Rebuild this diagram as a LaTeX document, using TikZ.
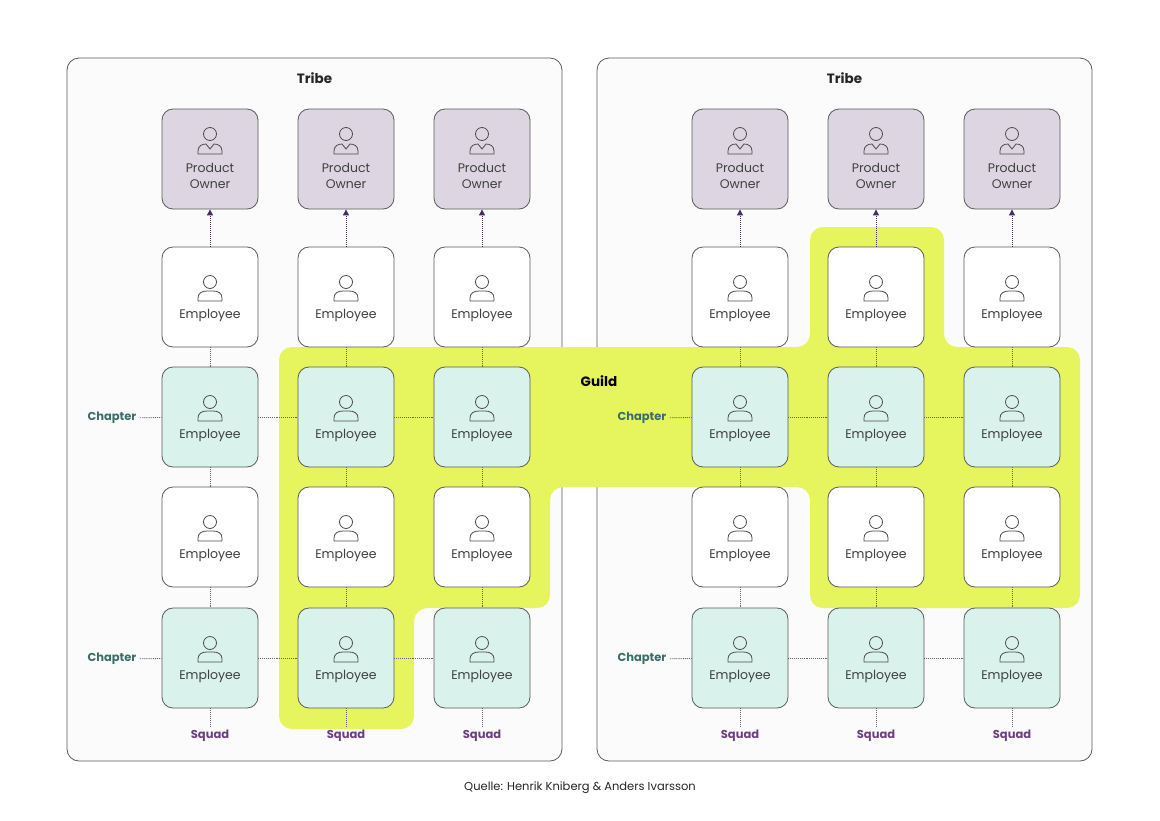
\documentclass[tikz,border=0pt]{standalone}
\usepackage{fontspec}
\setmainfont{Poppins}
\usetikzlibrary{arrows.meta}
\definecolor{po}{HTML}{DDD6E2}
\definecolor{ch}{HTML}{D9F3EC}
\definecolor{gy}{HTML}{E6F45E}
\definecolor{bd}{HTML}{5A5A5A}
\definecolor{tealt}{HTML}{3A6E68}
\definecolor{purp}{HTML}{6A3F82}
\definecolor{arr}{HTML}{4B2A66}
\begin{document}
\begin{tikzpicture}[x=1pt,y=-1pt,
  tribe/.style={draw=bd,fill=black!1.5,rounded corners=12,line width=0.8pt},
  box/.style={draw=bd,line width=0.8pt,rounded corners=11,minimum width=96pt,minimum height=100pt,fill=white},
  pobox/.style={box,fill=po},
  chbox/.style={box,fill=ch},
  txt/.style={font=\fontsize{12.5}{16}\selectfont,text=black!75,align=center},
  icon/.style={draw=black!70,line width=0.8pt},
  dot/.style={densely dotted,line width=0.9pt,draw=black!60},
  poarr/.style={densely dotted,line width=1pt,draw=arr,-{Triangle[length=6pt,width=6pt]}},
  chl/.style={font=\bfseries\fontsize{11.5}{13}\selectfont,text=tealt},
  sql/.style={font=\bfseries\fontsize{11.5}{13}\selectfont,text=purp},
  ttl/.style={font=\bfseries\fontsize{13.5}{15}\selectfont,text=black!85}]
\useasboundingbox (0,0) rectangle (1160,820);
\fill[white] (0,0) rectangle (1160,820);
\node[tribe,minimum width=495pt,minimum height=703pt] (T1) at (314.5,409.5) {};
\node[tribe,minimum width=495pt,minimum height=703pt] (T2) at (844.5,409.5) {};
\node[ttl] (t1) at (314.5,78) {Tribe};
\node[ttl] (t2) at (844.5,78) {Tribe};
% guild
\fill[gy,rounded corners=13] (279,347) -- (810,347) -- (810,227) -- (944,227) -- (944,347) -- (1080,347) -- (1080,608) -- (810,608) -- (810,487) -- (550,487) -- (550,608) -- (414,608) -- (414,729) -- (279,729) -- cycle;
\node[font=\bfseries\fontsize{13.5}{15}\selectfont] (guild) at (599,381) {Guild};
% grid
\foreach \t/\xa/\xb/\xc in {L/210/346/482,R/740/876/1012}{
  \foreach \c/\x in {1/\xa,2/\xb,3/\xc}{
    \node[pobox] (\t P\c) at (\x,159) {};
    \node[box] (\t A\c) at (\x,297) {};
    \node[chbox] (\t B\c) at (\x,417) {};
    \node[box] (\t C\c) at (\x,537) {};
    \node[chbox] (\t D\c) at (\x,658) {};
    \node[sql] (\t S\c) at (\x,736) {Squad};
    \node[txt] (\t Pt\c) at (\x,175.5) {Product\\Owner};
    \draw[icon] (\x,134) circle (6.5);
    \draw[icon] (\x-12,154) -- (\x-12,151) .. controls (\x-12,146) and (\x-8,144) .. (\x-4,144) -- (\x,149) -- (\x+4,144) .. controls (\x+8,144) and (\x+12,146) .. (\x+12,151) -- (\x+12,154) -- cycle;
    \foreach \r/\y in {A/297,B/417,C/537,D/658}{
      \node[txt] (\t \r t\c) at (\x,\y+18) {Employee};
      \draw[icon] (\x,\y-15) circle (6.5);
      \draw[icon] (\x-12,\y+4) -- (\x-12,\y+1) .. controls (\x-12,\y-4) and (\x-8,\y-6) .. (\x-3,\y-6) -- (\x+3,\y-6) .. controls (\x+8,\y-6) and (\x+12,\y-4) .. (\x+12,\y+1) -- (\x+12,\y+4) -- cycle;
    }
    \draw[poarr] (\t A\c) -- (\t P\c);
    \draw[dot] (\t A\c) -- (\t B\c);
    \draw[dot] (\t B\c) -- (\t C\c);
    \draw[dot] (\t C\c) -- (\t D\c);
    \draw[dot] (\t D\c.south) -- (\t S\c.north);
  }
  \node[chl] (\t H1) at (\xa-98,418) {Chapter};
  \node[chl] (\t H2) at (\xa-98,659) {Chapter};
  \draw[dot] (\t H1) -- (\t B1); \draw[dot] (\t B1) -- (\t B2); \draw[dot] (\t B2) -- (\t B3);
  \draw[dot] (\t H2) -- (\t D1); \draw[dot] (\t D1) -- (\t D2); \draw[dot] (\t D2) -- (\t D3);
}
\node[font=\fontsize{11.5}{13}\selectfont,text=black!85] (src) at (580,788) {Quelle: Henrik Kniberg \& Anders Ivarsson};
\end{tikzpicture}
\end{document}
